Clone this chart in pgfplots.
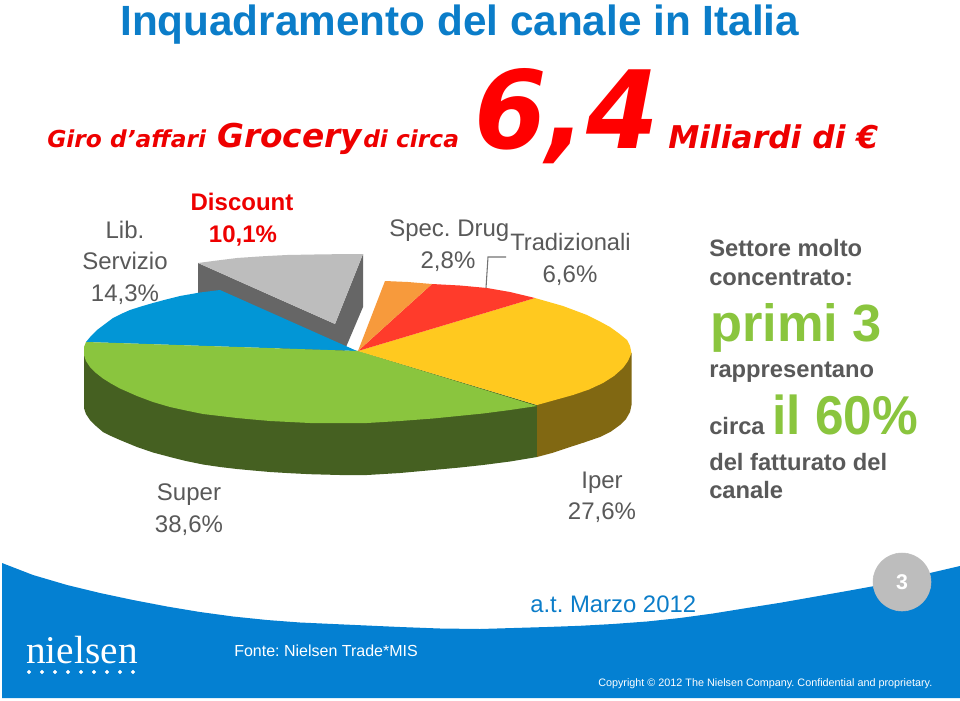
\documentclass[border=0pt]{standalone}
\usepackage{fontspec}
\usepackage{pgfplots}
\pgfplotsset{compat=1.18}
\setmainfont{Liberation Sans}
\newfontfamily\dv{DejaVu Sans}
\newfontfamily\lserif{Liberation Serif}
\definecolor{band}{HTML}{0480D2}
\definecolor{ttl}{HTML}{0B7DC9}
\definecolor{rd}{HTML}{EE0000}
\definecolor{gt}{HTML}{595959}
\definecolor{grn}{HTML}{8AC53E}
\definecolor{dgrn}{HTML}{456021}
\definecolor{ylw}{HTML}{FFC91F}
\definecolor{brn}{HTML}{816812}
\definecolor{rdp}{HTML}{FF3B2B}
\definecolor{org}{HTML}{F79A3C}
\definecolor{blu}{HTML}{0296D6}
\definecolor{gry}{HTML}{BDBDBD}
\definecolor{dgry}{HTML}{666666}
\newcommand{\fs}[1]{\fontsize{#1}{#1}\selectfont}
\newcommand{\T}[5]{\node[anchor=#1,inner sep=0pt,text=#4] at (axis cs:#2,#3) {#5};}
\pgfplotsset{pix/.style={scale only axis, width=720pt, height=525pt,
  xmin=0, xmax=960, ymin=0, ymax=700, y dir=reverse, hide axis, clip=false}}
\begin{document}
\frenchspacing
\begin{tikzpicture}
\begin{axis}[pix]
% page
\addplot[fill=white, draw=none] coordinates {(0,0)(960,0)(960,700)(0,700)} --cycle;
% footer band
\addplot[fill=band, draw=none] coordinates {(2,563)(33,575)(67,585)(100,593)(133,600)(167,606.5)(200,612)(233,616.5)(267,620)(300,622.5)(333,624)(400,627)(440,628.5)(480,629)(547,627)(580,625.8)(613,624)(647,621.5)(680,618)(713,613.5)(747,608)(780,602.8)(813,597)(847,591)(880,585)(905,579.5)(930,573)(960,566)(960,698)(2,698)} --cycle;
% pie: Discount walls and top
\addplot[fill=dgry, draw=none] coordinates {(198,263)(335,324)(335,373)(198,312)} --cycle;
\addplot[fill=dgry, draw=none] coordinates {(335,324)(363,254)(363,307)(335,373)} --cycle;
\addplot[fill=gry, draw=none] coordinates {(198,263)(217,260.5)(237,258)(262,256.3)(287,255)(325,254.3)(363,254)(335,324)} --cycle;
% side walls
\addplot[fill=dgrn, draw=none] coordinates {(84,347)(84,408)(86,414)(90,420)(96,426)(103,432)(111,436)(120,440)(137,447)(153,452.5)(170,457)(186,461)(203,464.5)(220,467)(237,469)(253,470.5)(270,472)(290,473.2)(310,474.2)(340,475)(367,475)(400,473)(433,470)(460,467.5)(483,465)(510,461.5)(537,457)(537,405)(358,351)} --cycle;
\addplot[fill=brn, draw=none] coordinates {(537,405)(537,457)(552,453)(567,448)(584,442.5)(600,437)(611,431.5)(620,425)(626,419)(630,412)(631.5,405)(631.5,353)} --cycle;
% blue
\addplot[fill=blu, draw=none] coordinates {(357,351)(86,342)(91,336)(97,330)(105,324)(113,318)(121,314)(130,310)(141,306.5)(153,303)(166,299.5)(180,296)(200,292.5)(220,290)} --cycle;
% green
\addplot[fill=grn, draw=none] coordinates {(358,351)(537,406)(510,410)(483,413.5)(458,416)(433,418.5)(400,421)(367,423)(333,423)(310,423)(290,422)(270,421)(253,419.5)(237,418)(220,416)(203,414)(186,410.5)(170,407)(153,402)(137,396)(128,392)(120,388.5)(111,383.5)(103,378.5)(96,373)(90,367)(86,361)(84,355)(84,347)(86,342)} --cycle;
% yellow
\addplot[fill=ylw, draw=none] coordinates {(358,351)(535,298)(549,302)(563,306)(575,310.5)(587,315)(599,321)(610,327)(619,333.5)(627,340)(630,346)(631.5,353)(628,361)(623,368)(614,376)(603,383)(589,389.5)(573,395)(555,400)(537,405)} --cycle;
% red
\addplot[fill=rdp, draw=none] coordinates {(358,351)(432,284)(460,285.5)(487,288)(510,292)(535,298)} --cycle;
% orange
\addplot[fill=org, draw=none] coordinates {(358,351)(385,281)(408,282)(432,284)} --cycle;
% leader
\addplot[draw=gray!90!black, line width=0.8pt] coordinates {(506,257)(488,257)(486,288)};
% page number disc
\addplot[only marks, mark=*, mark size=21.75pt, mark options={fill=gry, draw=gry}] coordinates {(902,582)};
% logo dots
\addplot[only marks, mark=*, mark size=1.3pt, mark options={fill=white, draw=white}] coordinates {(29,672)(42,672)(55,672)(68,672)(81,672)(94,672)(107,672)(120,672)(133,672)};
% texts
\T{base west}{120}{35}{ttl}{\fs{31.7}\bfseries Inquadramento del canale in Italia}
\T{base west}{47}{147}{rd}{\dv\fs{17.5}\bfseries\itshape Giro d’affari}
\T{base west}{217}{147}{rd}{\dv\fs{24.6}\bfseries\itshape Grocery}
\T{base west}{363}{147}{rd}{\dv\fs{17.5}\bfseries\itshape di circa}
\T{base west}{474}{148}{red}{\scalebox{.965}[1]{\dv\fs{81}\bfseries\itshape 6,4}}
\T{base west}{668}{148}{rd}{\dv\fs{23.5}\bfseries\itshape Miliardi di €}
\T{base}{125}{238}{gt}{\fs{18}Lib.}
\T{base}{125}{269}{gt}{\fs{18}Servizio}
\T{base}{125}{301}{gt}{\fs{18}14,3\%}
\T{base}{242}{210}{rd}{\fs{18}\bfseries Discount}
\T{base}{243}{242}{rd}{\fs{18}\bfseries 10,1\%}
\T{base west}{389}{236}{gt}{\fs{18}Spec. Drug}
\T{base}{448}{268}{gt}{\fs{18}2,8\%}
\T{base west}{510}{250}{gt}{\fs{17.8}Tradizionali}
\T{base}{570}{282}{gt}{\fs{18}6,6\%}
\T{base}{189}{500}{gt}{\fs{18}Super}
\T{base}{189}{532}{gt}{\fs{18}38,6\%}
\T{base}{602}{488}{gt}{\fs{18}Iper}
\T{base}{602}{519}{gt}{\fs{18}27,6\%}
\T{base west}{709}{256}{gt}{\fs{17.8}\bfseries Settore molto}
\T{base west}{709}{285}{gt}{\fs{17.8}\bfseries concentrato:}
\T{base west}{710}{341}{grn}{\fs{39.3}\bfseries primi 3}
\T{base west}{709}{377}{gt}{\fs{17.8}\bfseries rappresentano}
\T{base west}{709}{434}{gt}{\fs{17.8}\bfseries circa}
\T{base west}{772}{434}{grn}{\scalebox{.94}[1]{\fs{41}\bfseries il 60\%}}
\T{base west}{709}{470}{gt}{\fs{17.8}\bfseries del fatturato del}
\T{base west}{709}{498}{gt}{\fs{17.8}\bfseries canale}
\T{base west}{530}{612}{ttl}{\fs{17.9}a.t. Marzo 2012}
\T{base west}{234}{656}{white}{\fs{12}Fonte: Nielsen Trade*MIS}
\T{base west}{598}{686}{white}{\fs{8.1}Copyright © 2012 The Nielsen Company. Confidential and proprietary.}
\T{base west}{26}{663}{white}{\lserif\fs{29.5}nielsen}
\end{axis}
\begin{axis}[pix]
\T{base}{902}{589.5}{white}{\fs{16}\bfseries 3}
\end{axis}
\end{tikzpicture}
\end{document}
